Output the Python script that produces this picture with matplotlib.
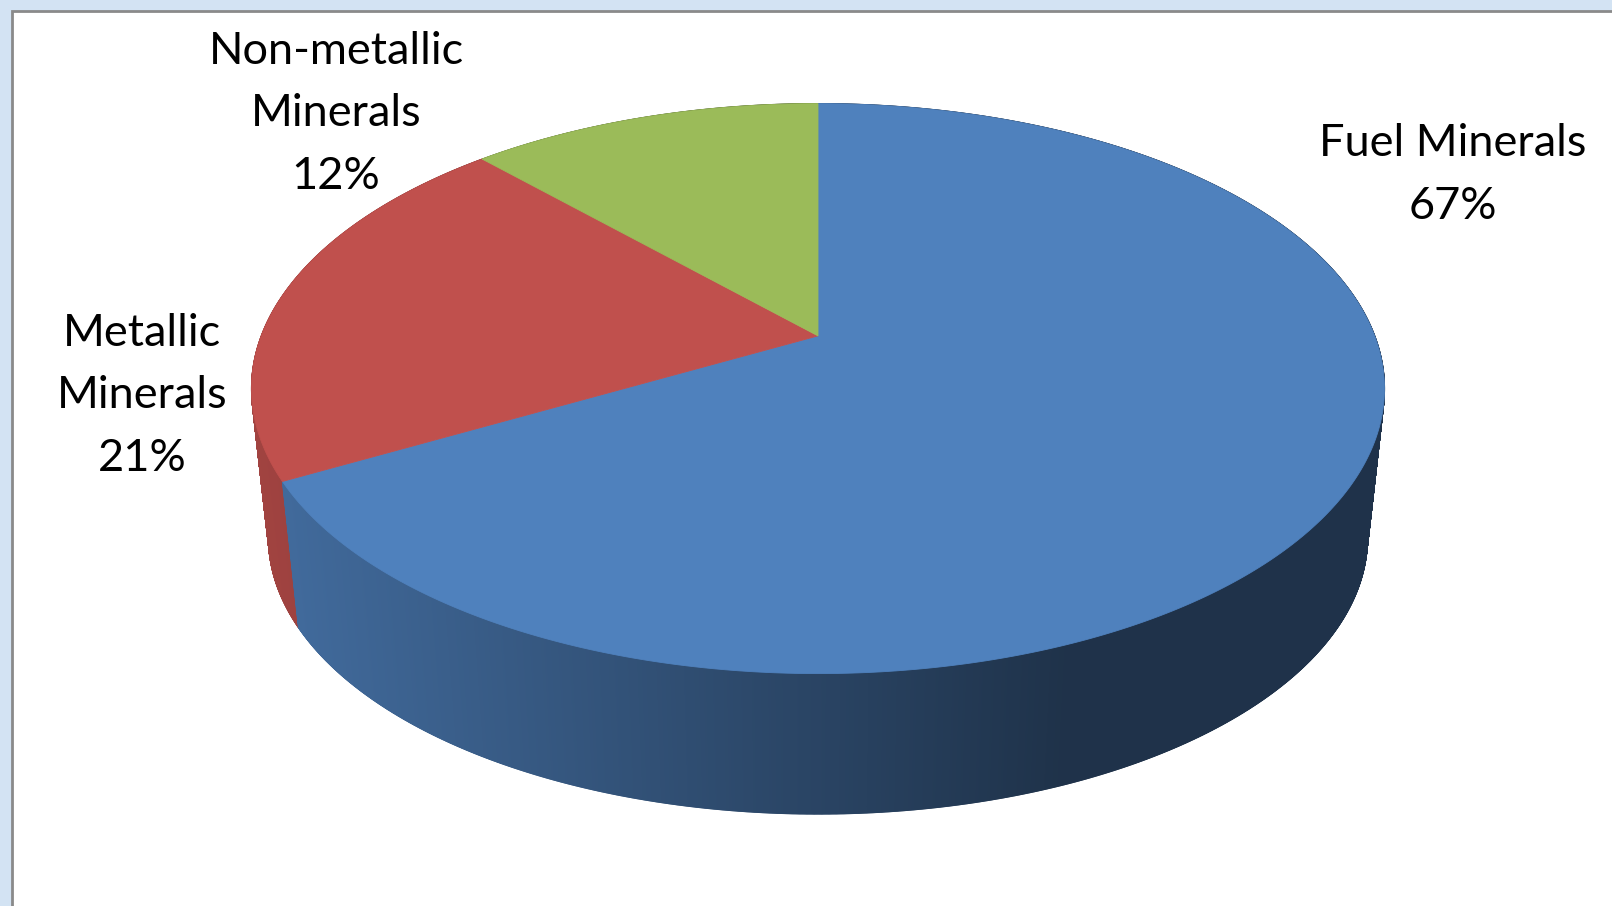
import numpy as np
import matplotlib
matplotlib.use("Agg")
import matplotlib.pyplot as plt
from matplotlib.patches import Rectangle, Polygon
from matplotlib.collections import PolyCollection

# ---- data ----
categories = ["Fuel Minerals", "Metallic\nMinerals", "Non-metallic\nMinerals"]
values = [67, 21, 12]
colors = ["#4F81BD", "#C0504D", "#9BBB59"]

# ---- layout / style ----
W, H = 1612, 906
cx, cy = 818.0, 388.6          # centre of top ellipse (px)
a, b = 566.5, 285.0            # semi-axes of top ellipse
k = 0.185                      # perspective strength
s_bot = 0.970                  # bottom face scale (perspective)
drop = 149.0                   # vertical drop of bottom face centre
label_pos = {0: (1453, 175), 1: (142, 396), 2: (336, 114)}

plt.rcParams['font.family'] = ['Lato', 'DejaVu Sans']

fig = plt.figure(figsize=(W / 100, H / 100), dpi=100)
fig.patch.set_facecolor("#d3e3f3")
ax = fig.add_axes([0, 0, 1, 1])
ax.set_xlim(0, W)
ax.set_ylim(H, 0)
ax.axis("off")

ax.add_patch(Rectangle((12, 11), W, H, facecolor="white", edgecolor="#8a8a8a", linewidth=2, zorder=0))

# perspective projection of the unit disc
def proj(theta):
    u, v = np.sin(theta), np.cos(theta)
    w = 1 + k * v
    return u / w, v / w

t_all = np.linspace(0, 2 * np.pi, 3601)
Xa, Ya = proj(t_all)
Xmid, Xhalf = (Xa.max() + Xa.min()) / 2, (Xa.max() - Xa.min()) / 2
Ymid, Yhalf = (Ya.max() + Ya.min()) / 2, (Ya.max() - Ya.min()) / 2

def to_img(X, Y):
    return cx + (X - Xmid) / Xhalf * a, cy - (Y - Ymid) / Yhalf * b

def to_bottom(x, y):
    return cx + s_bot * (x - cx), cy + drop + s_bot * (y - cy)

apex = to_img(0.0, 0.0)

fracs = np.array(values, dtype=float) / sum(values)
bounds = np.concatenate([[0], np.cumsum(fracs)]) * 2 * np.pi   # clockwise from top

# side walls
ximg, yimg = to_img(Xa, Ya)
xb, yb = to_bottom(ximg, yimg)
xl, xr = ximg.min(), ximg.max()
quads = []
for j in range(len(t_all) - 1):
    tm = (t_all[j] + t_all[j + 1]) / 2
    sidx = int(np.clip(np.searchsorted(bounds, tm) - 1, 0, len(values) - 1))
    poly = [(ximg[j], yimg[j]), (ximg[j + 1], yimg[j + 1]), (xb[j + 1], yb[j + 1]), (xb[j], yb[j])]
    tt = ((ximg[j] + ximg[j + 1]) / 2 - xl) / (xr - xl)
    f = np.interp(tt, [0, 0.72, 1.0], [0.84, 0.39, 0.39])
    col = tuple(np.array(matplotlib.colors.to_rgb(colors[sidx])) * f)
    quads.append(((yimg[j] + yimg[j + 1]) / 2, poly, col))
quads.sort(key=lambda q: q[0])
polys = [q[1] for q in quads]
pcols = [q[2] for q in quads]
ax.add_collection(PolyCollection(polys, facecolors=pcols, edgecolors=pcols, linewidths=0.8, zorder=1))

# top faces
for i in range(len(values)):
    t = np.linspace(bounds[i], bounds[i + 1], 400)
    X, Y = proj(t)
    xs, ys = to_img(X, Y)
    pts = np.column_stack([np.concatenate([[apex[0]], xs]), np.concatenate([[apex[1]], ys])])
    ax.add_patch(Polygon(pts, closed=True, facecolor=colors[i], edgecolor=colors[i], linewidth=0.6, zorder=2))

# labels
for i, (cat, val) in enumerate(zip(categories, values)):
    x, y = label_pos[i]
    ax.text(x, y, f"{cat}\n{val}%", ha="center", va="center", multialignment="center",
            fontsize=32.5, linespacing=1.64, color="black", zorder=3)

fig.savefig("out.png", dpi=100, facecolor=fig.get_facecolor())
